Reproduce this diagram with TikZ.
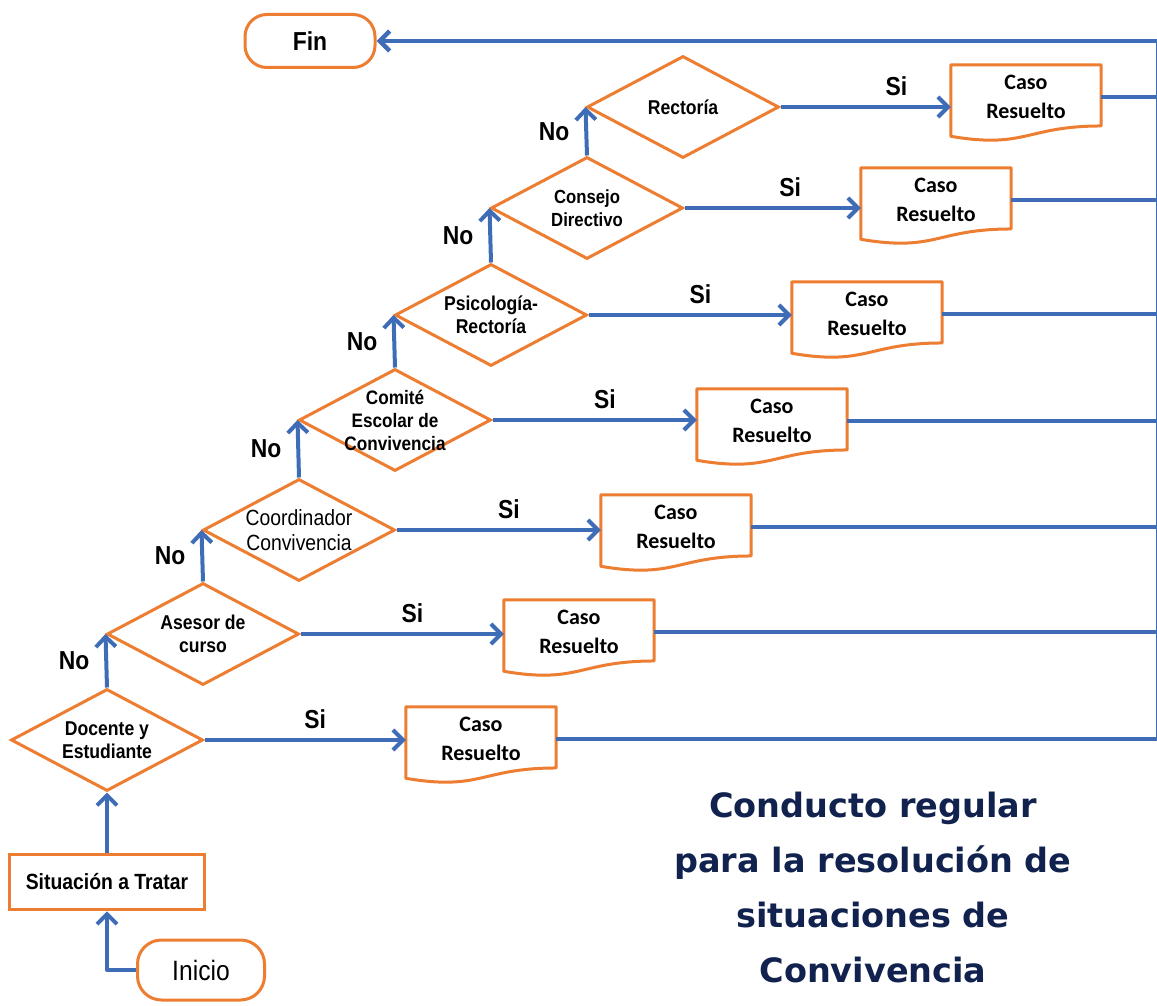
\documentclass[tikz,border=0pt]{standalone}
\usepackage{fontspec}
\usetikzlibrary{shapes.geometric,arrows.meta,calc}
\newfontfamily\nb[FakeStretch=0.88]{Liberation Sans}
\newfontfamily\carl{Carlito}
\newfontfamily\dvs{DejaVu Sans}
\definecolor{fblue}{RGB}{62,108,183}
\definecolor{forange}{RGB}{237,125,49}
\definecolor{fnavy}{RGB}{17,34,78}
\tikzset{
  flow/.style={draw=fblue, line width=4pt, line join=round, -{Straight Barb[length=10pt,width=20pt]}},
  plainline/.style={draw=fblue, line width=4pt},
  dec/.style={diamond, draw=forange, line width=3pt, minimum width=192pt, minimum height=102pt, inner sep=0pt, fill=white},
  dlab/.style={font=\nb\bfseries\fontsize{20}{23}\selectfont, align=center, inner sep=0pt},
  dlabr/.style={font=\nb\fontsize{22}{25}\selectfont, align=center, inner sep=0pt},
  docbox/.style={rectangle, minimum width=150pt, minimum height=64pt, inner sep=0pt, font=\carl\bfseries\fontsize{22}{29}\selectfont, align=center},
  docline/.style={draw=forange, line width=3pt, line join=round},
  term/.style={rectangle, rounded corners=22pt, draw=forange, line width=3pt, inner sep=0pt},
  yn/.style={font=\nb\bfseries\fontsize{26}{26}\selectfont, inner sep=0pt},
}
\newcommand\docoutline[1]{%
  \draw[docline] (#1.north west) -- (#1.north east) -- ($(#1.north east)!0.95!(#1.south east)$)
    .. controls ($(#1.north)!0.95!(#1.south)$) and ($(#1.north)!1.31!(#1.south)$) .. ($(#1.north west)!1.11!(#1.south west)$) -- cycle;}
\begin{document}
\begin{tikzpicture}[x=1pt,y=-1pt]
\useasboundingbox[fill=white] (0,0) rectangle (1157,1006);

% terminals and start box
\node[term, minimum width=130pt, minimum height=53pt, font=\nb\bfseries\fontsize{26}{26}\selectfont] (fin) at (310,41) {Fin};
\node[term, rounded corners=24pt, minimum width=127pt, minimum height=60pt, font=\nb\fontsize{28}{28}\selectfont] (ini) at (201,970) {Inicio};
\node[rectangle, draw=forange, line width=3.5pt, minimum width=195pt, minimum height=55pt, inner sep=0pt, font=\nb\bfseries\fontsize{22}{22}\selectfont] (sit) at (107,882) {Situación a Tratar};

% decisions
\node[dec] (d1) at (107,740) {};
\node[dec] (d2) at (203,634) {};
\node[dec] (d3) at (299,530) {};
\node[dec] (d4) at (395,420) {};
\node[dec] (d5) at (491,315) {};
\node[dec] (d6) at (587,208) {};
\node[dec] (d7) at (683,107) {};
\node[dlab] (t1) at (d1) {Docente y\\Estudiante};
\node[dlab] (t2) at (d2) {Asesor de\\curso};
\node[dlabr] (t3) at (d3) {Coordinador\\Convivencia};
\node[dlab, font=\nb\bfseries\fontsize{19.5}{23}\selectfont] (t4) at (d4) {Comité\\Escolar de\\Convivencia};
\node[dlab] (t5) at (d5) {Psicología-\\Rectoría};
\node[dlab, font=\nb\bfseries\fontsize{19}{23}\selectfont] (t6) at (d6) {Consejo\\Directivo};
\node[dlab] (t7) at (d7) {Rectoría};

% documents
\node[docbox] (c1) at (481,739) {Caso\\Resuelto};
\node[docbox] (c2) at (579,632) {Caso\\Resuelto};
\node[docbox] (c3) at (676,527) {Caso\\Resuelto};
\node[docbox] (c4) at (772,421) {Caso\\Resuelto};
\node[docbox] (c5) at (867,314) {Caso\\Resuelto};
\node[docbox] (c6) at (936,200) {Caso\\Resuelto};
\node[docbox] (c7) at (1026,97) {Caso\\Resuelto};
\foreach \n in {c1,c2,c3,c4,c5,c6,c7} {\docoutline{\n}}

\coordinate (rtop) at (1158,41);

% connectors
\draw[flow] (ini.west) -| (sit.south);
\draw[flow] (sit.north) -- (d1.south);
\draw[flow] (d1.north) -- node[yn, left=15pt, midway]{No} (d2.west);
\draw[flow] (d2.north) -- node[yn, left=15pt, midway]{No} (d3.west);
\draw[flow] (d3.north) -- node[yn, left=15pt, midway]{No} (d4.west);
\draw[flow] (d4.north) -- node[yn, left=15pt, midway]{No} (d5.west);
\draw[flow] (d5.north) -- node[yn, left=15pt, midway]{No} (d6.west);
\draw[flow] (d6.north) -- node[yn, left=15pt, midway]{No} (d7.west);

\draw[flow] (d1.east) -- node[yn, above=9pt, pos=0.55]{Si} (d1.east -| c1.west);
\draw[flow] (d2.east) -- node[yn, above=9pt, pos=0.55]{Si} (d2.east -| c2.west);
\draw[flow] (d3.east) -- node[yn, above=9pt, pos=0.55]{Si} (d3.east -| c3.west);
\draw[flow] (d4.east) -- node[yn, above=9pt, pos=0.55]{Si} (d4.east -| c4.west);
\draw[flow] (d5.east) -- node[yn, above=9pt, pos=0.55]{Si} (d5.east -| c5.west);
\draw[flow] (d6.east) -- node[yn, above=9pt, pos=0.6]{Si} (d6.east -| c6.west);
\draw[flow] (d7.east) -- node[yn, above=9pt, pos=0.68]{Si} (d7.east -| c7.west);

\foreach \n in {c1,c2,c3,c4,c5,c6,c7} {\draw[plainline] (\n.east) -- (\n.east -| rtop);}
\draw[flow, line width=4.5pt] (c1.east -| rtop) -- (rtop) -- (fin.east);

% title
\node[font=\dvs\bfseries\fontsize{33.5}{55}\selectfont, text=fnavy, align=center] (title) at (873,888)
  {Conducto regular\\para la resolución de\\situaciones de\\Convivencia};
\end{tikzpicture}
\end{document}
